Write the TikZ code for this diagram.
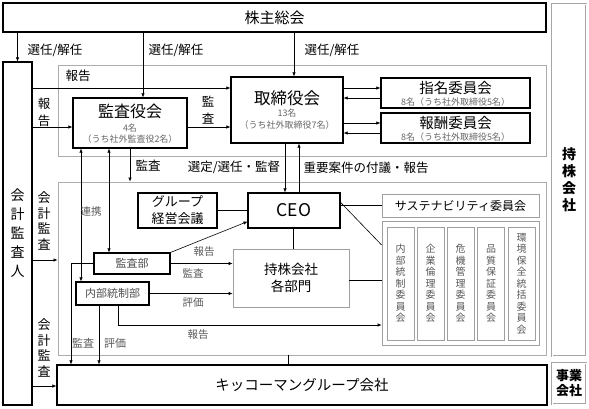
\documentclass[tikz,border=0pt]{standalone}
\usepackage{fontspec}
\setmainfont{Noto Sans CJK JP}
\usetikzlibrary{arrows.meta}

\begin{document}
\begin{tikzpicture}[x=1pt, y=-1pt,
  box/.style={draw, line width=1.2pt, inner sep=0pt, align=center},
  gbox/.style={draw=gray!75, line width=0.8pt, inner sep=0pt, align=center},
  dbox/.style={draw=gray!70, double=white, double distance=1pt, line width=0.7pt, inner sep=0pt, align=center},
  frame/.style={draw=gray!65, line width=0.9pt, inner sep=0pt},
  arr/.style={-{Latex[length=4pt,width=3.5pt]}, line width=0.6pt},
  darr/.style={{Latex[length=4pt,width=3.5pt]}-{Latex[length=4pt,width=3.5pt]}, line width=0.6pt},
  lbl/.style={font=\fontsize{12.5}{17}\selectfont, inner sep=0pt, align=center},
  slbl/.style={font=\fontsize{10.5}{12}\selectfont, text=black!65, inner sep=0pt},
  sub/.style={font=\fontsize{9}{10}\selectfont, text=black!60, inner sep=0pt},
  iname/.style={font=\fontsize{10}{11.5}\selectfont, text=black!65}]

  \useasboundingbox (0,0) rectangle (589,408);

  % frames
  \node[frame, minimum width=488pt, minimum height=91pt] (upframe) at (302,110.5) {};
  \node[frame, minimum width=488pt, minimum height=173pt] (lowframe) at (302,268.5) {};

  % top row and side boxes
  \node[box, minimum width=543pt, minimum height=29pt, font=\fontsize{15}{18}\selectfont] (soukai) at (274.5,17.5) {株主総会};
  \node[dbox, minimum width=34pt, minimum height=352pt, font=\fontsize{14}{17}\selectfont\bfseries] (mochikabu) at (569,180) {持\\株\\会\\社};
  \node[dbox, minimum width=34pt, minimum height=41pt, font=\fontsize{13}{15}\selectfont\bfseries] (jigyo) at (569,383.5) {事業\\会社};
  \node[box, minimum width=29pt, minimum height=343pt, font=\fontsize{14}{19}\selectfont] (kaikei) at (17.5,233.5) {会\\計\\監\\査\\人};

  % boards
  \node[box, minimum width=114pt, minimum height=50pt] (kansayaku) at (130,123) {};
  \node[font=\fontsize{16}{18}\selectfont, inner sep=0pt] (kansayakuT) at (130,111) {監査役会};
  \node[sub] (kansayakuN) at (130,128) {4名};
  \node[sub] (kansayakuS) at (130,139) {（うち社外監査役2名）};

  \node[box, minimum width=112pt, minimum height=66pt] (torishimari) at (287,110) {};
  \node[font=\fontsize{16.5}{18}\selectfont, inner sep=0pt] (torishimariT) at (287,98) {取締役会};
  \node[sub] (torishimariN) at (287,113) {13名};
  \node[sub] (torishimariS) at (287,125) {（うち社外取締役7名）};

  \node[box, minimum width=149pt, minimum height=30pt] (shimei) at (455.5,93) {};
  \node[font=\fontsize{14.5}{16}\selectfont, inner sep=0pt] (shimeiT) at (455.5,88) {指名委員会};
  \node[sub] (shimeiS) at (455.5,102.5) {8名（うち社外取締役5名）};

  \node[box, minimum width=149pt, minimum height=30pt] (houshu) at (455.5,128) {};
  \node[font=\fontsize{14.5}{16}\selectfont, inner sep=0pt] (houshuT) at (455.5,123) {報酬委員会};
  \node[sub] (houshuS) at (455.5,137.5) {8名（うち社外取締役5名）};

  % executive side
  \node[box, minimum width=79pt, minimum height=35pt, font=\fontsize{13}{17}\selectfont] (group) at (177.5,210.5) {グループ\\経営会議};
  \node[box, minimum width=92pt, minimum height=35pt, font=\fontsize{17.5}{20}\selectfont] (ceo) at (294,210.5) {CEO};
  \node[gbox, minimum width=157pt, minimum height=23pt, font=\fontsize{12}{14}\selectfont] (sustain) at (460.5,205.5) {サステナビリティ委員会};
  \node[gbox, minimum width=157pt, minimum height=124pt] (cframe) at (460.5,283) {};
  \foreach \x/\name/\txt in {400.5/naibuI/{内\\部\\統\\制\\委\\員\\会},
                             430.5/rinri/{企\\業\\倫\\理\\委\\員\\会},
                             460.5/kiki/{危\\機\\管\\理\\委\\員\\会},
                             491/hinshitsu/{品\\質\\保\\証\\委\\員\\会},
                             521.5/kankyo/{環\\境\\保\\全\\統\\括\\委\\員\\会}}
    \node[gbox, iname, minimum width=27pt, minimum height=113pt] (\name) at (\x,283.5) {\txt};

  \node[box, minimum width=76pt, minimum height=21pt, font=\fontsize{11}{13}\selectfont, text=black!70] (kansabu) at (132,263.5) {監査部};
  \node[box, minimum width=73pt, minimum height=23pt, font=\fontsize{11}{13}\selectfont, text=black!70] (naibu) at (112.5,293.5) {内部統制部};
  \node[gbox, minimum width=116pt, minimum height=58pt, font=\fontsize{13.5}{17}\selectfont] (kakubumon) at (291,278) {持株会社\\各部門};
  \node[box, minimum width=490pt, minimum height=40pt, font=\fontsize{14.5}{17}\selectfont] (kikkoman) at (302,385) {キッコーマングループ会社};

  % election
  \draw[arr] (soukai.south -| kaikei) -- (kaikei.north);
  \draw[arr] (soukai.south -| 143,0) -- (kansayaku.north -| 143,0);
  \draw[arr] (soukai.south -| 294,0) -- (torishimari.north -| 294,0);
  \node[lbl] (sen1) at (55,50) {選任/解任};
  \node[lbl] (sen2) at (176,50) {選任/解任};
  \node[lbl] (sen3) at (332,50) {選任/解任};

  % reports and audits in the upper frame
  \draw[arr] (kaikei.east |- 0,88) -- (torishimari.west |- 0,88);
  \node[lbl] (hou1) at (78,76) {報告};
  \draw[arr] (kaikei.east |- 0,127) -- (kansayaku.west |- 0,127);
  \node[lbl] (hou2) at (44,112) {報\\告};
  \draw[arr] (kansayaku.east |- 0,127) -- (torishimari.west |- 0,127);
  \node[lbl] (kan1) at (208,110) {監\\査};
  \draw[arr] (torishimari.east |- 0,88) -- (shimei.west |- 0,88);
  \draw[arr] (shimei.west |- 0,98) -- (torishimari.east |- 0,98);
  \draw[arr] (torishimari.east |- 0,123) -- (houshu.west |- 0,123);
  \draw[arr] (houshu.west |- 0,133) -- (torishimari.east |- 0,133);

  % between the frames
  \draw[darr] (kansayaku.south -| 81,0) -- (naibu.north -| 81,0);
  \draw[darr] (kansayaku.south -| 109,0) -- (kansabu.north -| 109,0);
  \node[slbl] (renkei) at (91,212) {連携};
  \draw[arr] (kansayaku.south) -- (kansayaku.south |- lowframe.north);
  \node[lbl] (kan2) at (148,166) {監査};
  \draw[arr] (torishimari.south -| 285,0) -- (ceo.north -| 285,0);
  \draw[arr] (ceo.north -| 299,0) -- (torishimari.south -| 299,0);
  \node[lbl] (kantoku) at (234,167) {選定/選任・監督};
  \node[lbl] (fugi) at (366,168) {重要案件の付議・報告};

  % accounting audit
  \draw[arr] (kaikei.east |- 0,260) -- (lowframe.west |- 0,260);
  \node[lbl, font=\fontsize{13}{15.5}\selectfont] (kaikan1) at (44,221) {会\\計\\監\\査};
  \draw[arr] (kaikei.east |- 0,386) -- (kikkoman.west |- 0,386);
  \node[lbl, font=\fontsize{13}{15.5}\selectfont] (kaikan2) at (44,348) {会\\計\\監\\査};

  % executive links
  \draw[line width=0.6pt] (group.east) -- (ceo.west |- group.east);
  \draw[line width=0.6pt] (ceo.south -| 293,0) -- (kakubumon.north -| 293,0);
  \draw[line width=0.6pt] (ceo.east |- sustain.west) -- (sustain.west);
  \draw[line width=0.6pt] ([yshift=-10pt]ceo.north east) -- (cframe.west |- 0,245);
  \draw[line width=0.6pt] (kakubumon.east |- 0,280) -- (cframe.west |- 0,280);
  \draw[line width=0.6pt] (lowframe.south -| 288,0) -- (kikkoman.north -| 288,0);

  % internal audit
  \draw[arr] (kansabu.north east) -- ([yshift=7pt]ceo.south west);
  \node[slbl] (hou3) at (204,252) {報告};
  \draw[arr] (kansabu.east) -- (kakubumon.west |- kansabu.east);
  \node[slbl] (kan3) at (193,273) {監査};
  \draw[arr] (naibu.east) -- (kakubumon.west |- naibu.east);
  \node[slbl] (hyo1) at (193,303) {評価};
  \draw[arr] (naibu.south -| 118,0) |- (cframe.west |- 0,325);
  \node[slbl] (hou4) at (198,335) {報告};
  \draw[arr] (kansabu.west) -| (kikkoman.north -| 71,0);
  \node[slbl, font=\fontsize{11}{13}\selectfont] (kan4) at (83,343) {監査};
  \draw[arr] (naibu.south -| 99,0) -- (kikkoman.north -| 99,0);
  \node[slbl, font=\fontsize{11}{13}\selectfont] (hyo2) at (115,343) {評価};
\end{tikzpicture}
\end{document}
